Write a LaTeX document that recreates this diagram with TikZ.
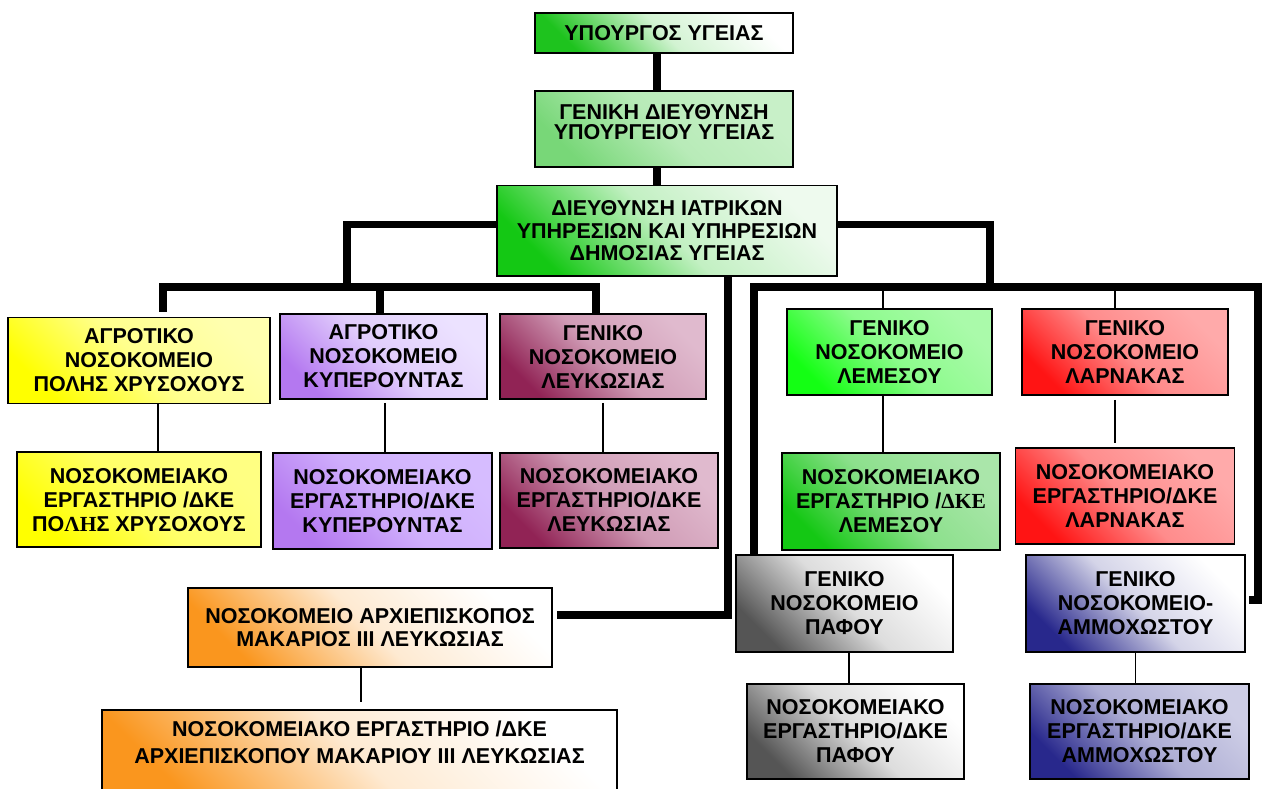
\documentclass[tikz,border=0pt]{standalone}
\usepackage{fontspec}
\setmainfont{Liberation Sans}
\newfontfamily\grserif{Liberation Serif}
\usetikzlibrary{positioning}
\newcommand\boxfont[1]{\bfseries\fontsize{21.5}{#1}\selectfont}
% box colours: saturated corner / light side
\definecolor{minS}{RGB}{30,195,30}
\definecolor{genS}{RGB}{120,215,120}
\definecolor{genL}{RGB}{200,240,200}
\definecolor{dirS}{RGB}{20,200,20}
\definecolor{dirL}{RGB}{238,250,238}
\definecolor{yelS}{RGB}{255,255,0}
\definecolor{yelL}{RGB}{255,255,175}
\definecolor{yelM}{RGB}{255,255,130}
\definecolor{purS}{RGB}{180,120,240}
\definecolor{purL}{RGB}{236,226,255}
\definecolor{purM}{RGB}{214,188,255}
\definecolor{marS}{RGB}{145,35,85}
\definecolor{marL}{RGB}{224,186,206}
\definecolor{limS}{RGB}{20,255,20}
\definecolor{limL}{RGB}{170,250,170}
\definecolor{limM}{RGB}{20,200,20}
\definecolor{limN}{RGB}{170,230,170}
\definecolor{larS}{RGB}{255,20,20}
\definecolor{larL}{RGB}{255,170,170}
\definecolor{pafS}{RGB}{85,85,85}
\definecolor{ammS}{RGB}{40,40,140}
\definecolor{ammL}{RGB}{206,206,230}
\definecolor{makS}{RGB}{250,150,30}
\begin{document}
\begin{tikzpicture}
	[x=1pt, y=-1pt,
	box/.style = {draw, line width=1.8pt, align=center, inner sep=2pt, font=\boxfont{24}},
	dims/.style 2 args = {minimum width=#1, minimum height=#2},
	grad/.style 2 args = {left color=#1, right color=#2, middle color=#1!20!#2, shading angle=135},
	bus/.style = {line width=7.5pt},
	link/.style = {line width=1.3pt}]
\clip (0,0) rectangle (1262,789);
% top of the chart
\node[box, grad={minS}{white}, dims={258pt}{40pt}] (min) at (664,33) {ΥΠΟΥΡΓΟΣ ΥΓΕΙΑΣ};
\node[box, grad={genS}{genL}, dims={258pt}{76pt}, font=\boxfont{19.5}] (gen) [below=36pt of min] {ΓΕΝΙΚΗ ΔΙΕΥΘΥΝΣΗ\\ΥΠΟΥΡΓΕΙΟΥ ΥΓΕΙΑΣ\vphantom{g}\\[-6pt]~};
\node[box, grad={dirS}{dirL}, dims={340pt}{90pt}, font=\boxfont{22.5}] (dir) [below=17pt of gen, xshift=3pt] {ΔΙΕΥΘΥΝΣΗ ΙΑΤΡΙΚΩΝ\\ΥΠΗΡΕΣΙΩΝ ΚΑΙ ΥΠΗΡΕΣΙΩΝ\\ΔΗΜΟΣΙΑΣ ΥΓΕΙΑΣ};
% hospitals
\node[box, grad={yelS}{yelL}, dims={262pt}{86pt}] (agrchr) at (139,360.5) {ΑΓΡΟΤΙΚΟ\\ΝΟΣΟΚΟΜΕΙΟ\\ΠΟΛΗΣ ΧΡΥΣΟΧΟΥΣ};
\node[box, grad={purS}{purL}, dims={207pt}{85pt}] (agrkyp) at (383.5,356.5) {ΑΓΡΟΤΙΚΟ\\ΝΟΣΟΚΟΜΕΙΟ\\ΚΥΠΕΡΟΥΝΤΑΣ};
\node[box, grad={marS}{marL}, dims={206pt}{85pt}] (genlef) at (603,356.5) {ΓΕΝΙΚΟ\\ΝΟΣΟΚΟΜΕΙΟ\\ΛΕΥΚΩΣΙΑΣ};
\node[box, grad={limS}{limL}, dims={205pt}{86pt}] (genlem) at (889.5,352) {ΓΕΝΙΚΟ\\ΝΟΣΟΚΟΜΕΙΟ\\ΛΕΜΕΣΟΥ};
\node[box, grad={larS}{larL}, dims={206pt}{86pt}] (genlar) at (1125,352) {ΓΕΝΙΚΟ\\ΝΟΣΟΚΟΜΕΙΟ\\ΛΑΡΝΑΚΑΣ};
\node[box, grad={pafS}{white}, dims={217pt}{97pt}] (genpaf) at (844.5,603.5) {ΓΕΝΙΚΟ\\ΝΟΣΟΚΟΜΕΙΟ\\ΠΑΦΟΥ};
\node[box, grad={ammS}{white}, dims={219pt}{97pt}] (genamm) at (1135.5,603.5) {ΓΕΝΙΚΟ\\ΝΟΣΟΚΟΜΕΙΟ-\\ΑΜΜΟΧΩΣΤΟΥ};
\node[box, grad={makS}{white}, dims={364pt}{79pt}, font=\boxfont{23}] (makar) at (370,627.5) {ΝΟΣΟΚΟΜΕΙΟ ΑΡΧΙΕΠΙΣΚΟΠΟΣ\\ΜΑΚΑΡΙΟΣ III ΛΕΥΚΩΣΙΑΣ};
% laboratories
\node[box, grad={yelS}{yelM}, dims={244pt}{95pt}] (labchr) [below=47pt of agrchr] {ΝΟΣΟΚΟΜΕΙΑΚΟ\\ΕΡΓΑΣΤΗΡΙΟ /ΔΚΕ\\ΠΟ{\grserif ΛΗ}Σ ΧΡΥΣΟΧΟΥΣ};
\node[box, grad={purS}{purM}, dims={219pt}{96pt}] (labkyp) [below=52pt of agrkyp, xshift=-1pt] {ΝΟΣΟΚΟΜΕΙΑΚΟ\\ΕΡΓΑΣΤΗΡΙΟ/ΔΚΕ\\ΚΥΠΕΡΟΥΝΤΑΣ};
\node[box, grad={marS}{marL}, dims={218pt}{95pt}] (lablef) [below=52pt of genlef, xshift=6pt] {ΝΟΣΟΚΟΜΕΙΑΚΟ\\ΕΡΓΑΣΤΗΡΙΟ/ΔΚΕ\\ΛΕΥΚΩΣΙΑΣ};
\node[box, grad={limM}{limN}, dims={218pt}{97pt}] (lablem) [below=56pt of genlem, xshift=1.5pt] {ΝΟΣΟΚΟΜΕΙΑΚΟ\\ΕΡΓΑΣΤΗΡΙΟ /{\grserif ΔΚΕ}\\ΛΕΜΕΣΟΥ};
\node[box, grad={larS}{larL}, dims={219pt}{96pt}] (lablar) [below=51pt of genlar] {ΝΟΣΟΚΟΜΕΙΑΚΟ\\ΕΡΓΑΣΤΗΡΙΟ/ΔΚΕ\\ΛΑΡΝΑΚΑΣ};
\node[box, grad={pafS}{white}, dims={217pt}{95pt}] (labpaf) [below=30pt of genpaf, xshift=11pt] {ΝΟΣΟΚΟΜΕΙΑΚΟ\\ΕΡΓΑΣΤΗΡΙΟ/ΔΚΕ\\ΠΑΦΟΥ};
\node[box, grad={ammS}{ammL}, dims={219pt}{95pt}] (labamm) [below=30pt of genamm, xshift=4pt] {ΝΟΣΟΚΟΜΕΙΑΚΟ\\ΕΡΓΑΣΤΗΡΙΟ/ΔΚΕ\\ΑΜΜΟΧΩΣΤΟΥ};
\node[box, grad={makS}{white}, dims={515pt}{92pt}, font=\boxfont{27}] (labmak) [below=41pt of makar, xshift=-10.5pt] {ΝΟΣΟΚΟΜΕΙΑΚΟ ΕΡΓΑΣΤΗΡΙΟ /ΔΚΕ\\ΑΡΧΙΕΠΙΣΚΟΠΟΥ ΜΑΚΑΡΙΟΥ III ΛΕΥΚΩΣΙΑΣ\\~};
% thick lines
\coordinate (lj) at (347,287);
\coordinate (rm) at (990,287);
\coordinate (rj) at (1258,287);
\draw[bus] ([xshift=-7pt]min.south) -- ([xshift=-7pt]gen.north);
\draw[bus] ([xshift=-7pt]gen.south) -- ([xshift=-10pt]dir.north);
\draw[bus] ([yshift=6pt]dir.west) -| (lj);
\draw[bus] ([xshift=24pt,yshift=5pt]agrchr.north) |- (lj) -| ([xshift=-7pt]genlef.north);
\draw[bus] ([xshift=-3.5pt]agrkyp.north) -- ([xshift=-3.5pt]agrkyp.north |- lj);
\draw[bus] ([yshift=6pt]dir.east) -| (rm);
\draw[bus] ([xshift=19pt]genpaf.north west) |- (rj) |- ([xshift=3pt,yshift=3.5pt]genamm.east);
\draw[bus] ([xshift=61pt]dir.south) |- ([xshift=4pt,yshift=12.5pt]makar.east);
% thin lines
\draw[link] ([xshift=-6.5pt]genlem.north) -- ([xshift=-6.5pt]genlem.north |- rj);
\draw[link] ([xshift=-10pt]genlar.north) -- ([xshift=-10pt]genlar.north |- rj);
\draw[link] ([xshift=19pt]agrchr.south) -- ([xshift=19pt]agrchr.south |- labchr.north);
\draw[link] ([xshift=1.5pt,yshift=-3pt]agrkyp.south) -- ([xshift=1.5pt]agrkyp.south |- labkyp.north);
\draw[link] ([yshift=-3pt]genlef.south) -- (genlef.south |- lablef.north);
\draw[link] ([xshift=-6.5pt]genlem.south) -- ([xshift=-6.5pt]genlem.south |- lablem.north);
\draw[link] ([xshift=-10pt,yshift=-4pt]genlar.south) -- ([xshift=-10pt,yshift=4pt]genlar.south |- lablar.north);
\draw[link] ([xshift=4.5pt]genpaf.south) -- ([xshift=4.5pt]genpaf.south |- labpaf.north);
\draw[link] (genamm.south) -- (genamm.south |- labamm.north);
\draw[link] ([xshift=-9pt]makar.south) -- ([xshift=-9pt,yshift=7pt]makar.south |- labmak.north);
\end{tikzpicture}
\end{document}
